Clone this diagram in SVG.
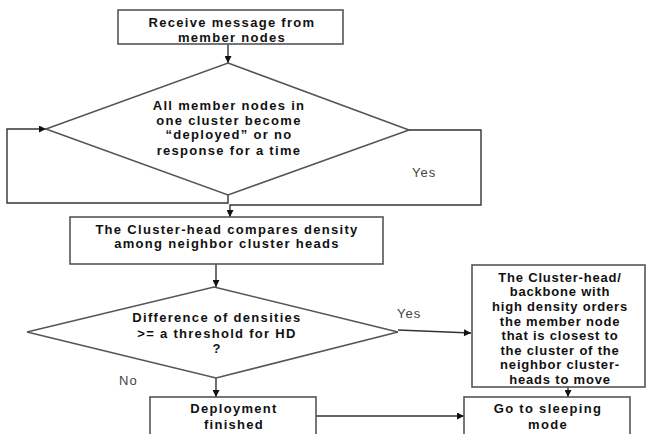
<svg xmlns="http://www.w3.org/2000/svg" width="646" height="434" viewBox="0 0 646 434">
<defs>
<style>
.box{fill:#fff;stroke:#555;stroke-width:1.6}
.t{font-family:"Liberation Sans",Arial,sans-serif;font-size:13px;font-weight:bold;letter-spacing:1.3px;text-anchor:middle;fill:#111}
.r{letter-spacing:0.8px}
.l{font-family:"Liberation Sans",Arial,sans-serif;font-size:13px;letter-spacing:1px;fill:#444}
.c{fill:none;stroke:#333;stroke-width:1.4}
</style>
<marker id="ah" viewBox="0 0 10 10" refX="10" refY="5" markerWidth="8" markerHeight="7" markerUnits="userSpaceOnUse" orient="auto">
<path d="M0,0 L10,5 L0,10 z" fill="#111"/>
</marker>
</defs>
<rect width="646" height="434" fill="#fff"/>
<g id="connectors">
<path class="c" d="M228,44 V63" marker-end="url(#ah)"/>
<path class="c" d="M228,195 V203 H7 V129 H46" marker-end="url(#ah)"/>
<path class="c" d="M409,130 H481 V205 H230 V217" marker-end="url(#ah)"/>
<path class="c" d="M216,264 V287" marker-end="url(#ah)"/>
<path class="c" d="M398,330 L471,333" marker-end="url(#ah)"/>
<path class="c" d="M216,378 V397" marker-end="url(#ah)"/>
<path class="c" d="M568,387 V397" marker-end="url(#ah)"/>
<path class="c" d="M316,416 H464" marker-end="url(#ah)"/>
<text class="l" x="412" y="177">Yes</text>
<text class="l" x="397" y="318">Yes</text>
<text class="l" x="119" y="385">No</text>
</g>
<g id="n1">
<rect class="box" x="118" y="10" width="225" height="34"/>
<text class="t" x="232" y="27">Receive message from</text>
<text class="t" x="232" y="42">member nodes</text>
</g>
<g id="n2">
<polygon class="box" points="228,63 409,130 228,195 46,129"/>
<text class="t" x="229" y="110">All member nodes in</text>
<text class="t" x="229" y="125">one cluster become</text>
<text class="t" x="229" y="139">“deployed” or no</text>
<text class="t" x="229" y="155">response for a time</text>
</g>
<g id="n3">
<rect class="box" x="70" y="217" width="313" height="47"/>
<text class="t" x="227" y="234">The Cluster-head compares density</text>
<text class="t" x="227" y="248">among neighbor cluster heads</text>
</g>
<g id="n4">
<polygon class="box" points="214,287 398,332 216,378 27,332"/>
<text class="t" x="217" y="322">Difference of densities</text>
<text class="t" x="217" y="338">&gt;=  a threshold for HD</text>
<text class="t" x="217" y="353">?</text>
</g>
<g id="n5">
<rect class="box" x="472" y="265" width="173" height="122"/>
<text class="t r" x="560" y="282">The Cluster-head/</text>
<text class="t r" x="560" y="296">backbone with</text>
<text class="t r" x="560" y="311">high density orders</text>
<text class="t r" x="560" y="326">the member node</text>
<text class="t r" x="560" y="340">that is closest to</text>
<text class="t r" x="560" y="355">the cluster of the</text>
<text class="t r" x="560" y="369">neighbor cluster-</text>
<text class="t r" x="560" y="384">heads to move</text>
</g>
<g id="n6">
<rect class="box" x="150" y="397" width="166" height="45"/>
<text class="t" x="234" y="413">Deployment</text>
<text class="t" x="234" y="429">finished</text>
</g>
<g id="n7">
<rect class="box" x="464" y="397" width="166" height="45"/>
<text class="t" x="548" y="413">Go to sleeping</text>
<text class="t" x="548" y="429">mode</text>
</g>
</svg>
